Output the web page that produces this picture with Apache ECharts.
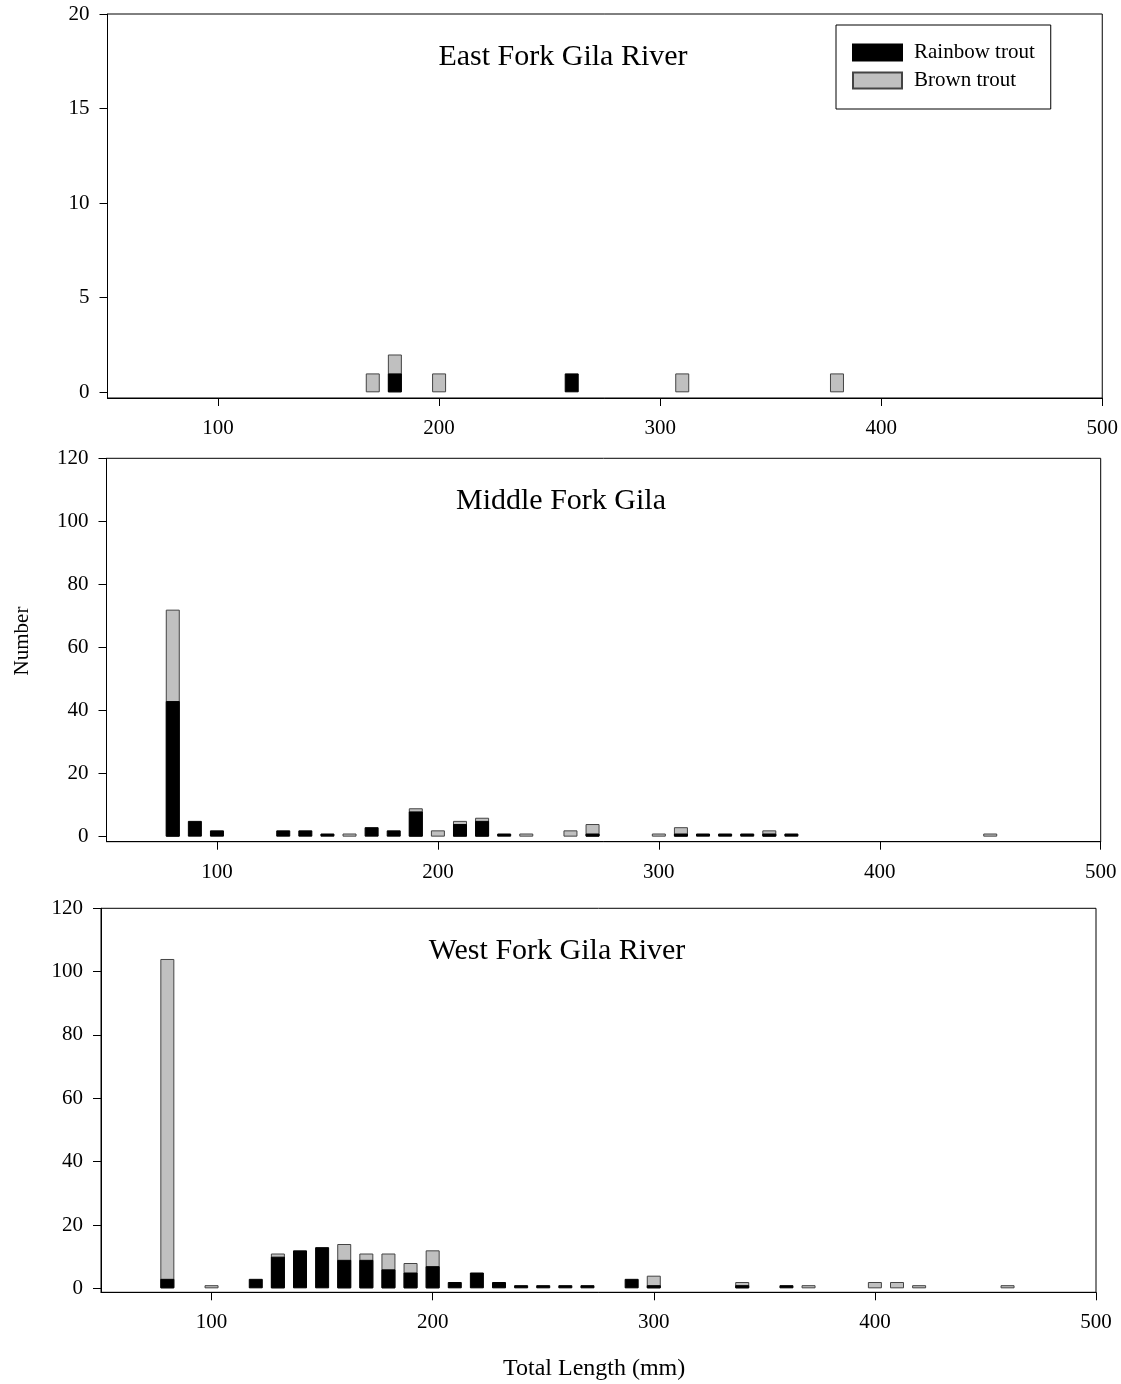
<!DOCTYPE html>
<html>
<head>
    <meta charset="utf-8">
    <script src="https://cdn.jsdelivr.net/npm/echarts@6/dist/echarts.min.js"></script>
    <style>
        html, body { margin: 0; padding: 0; background: #fff; }
    </style>
</head>
<body>
    <div id="main" style="width:1121px;height:1384px;"></div>
</body>
<script type="text/javascript">
    // total length bins (mm) and counts per river
    var eastLengths = [170, 180, 200, 260, 310, 380];
    var eastRainbow = [0, 1, 0, 1, 0, 0];
    var eastBrown   = [1, 1, 1, 0, 1, 1];

    var middleLengths = [80, 90, 100, 130, 140, 150, 160, 170, 180, 190, 200, 210, 220, 230, 240, 260, 270, 300, 310, 320, 330, 340, 350, 360, 450];
    var middleRainbow = [43, 5, 2, 2, 2, 1, 0, 3, 2, 8, 0, 4, 5, 1, 0, 0, 1, 0, 1, 1, 1, 1, 1, 1, 0];
    var middleBrown   = [29, 0, 0, 0, 0, 0, 1, 0, 0, 1, 2, 1, 1, 0, 1, 2, 3, 1, 2, 0, 0, 0, 1, 0, 1];

    var westLengths = [80, 100, 120, 130, 140, 150, 160, 170, 180, 190, 200, 210, 220, 230, 240, 250, 260, 270, 290, 300, 340, 360, 370, 400, 410, 420, 460];
    var westRainbow = [3, 0, 3, 10, 12, 13, 9, 9, 6, 5, 7, 2, 5, 2, 1, 1, 1, 1, 3, 1, 1, 1, 0, 0, 0, 0, 0];
    var westBrown   = [101, 1, 0, 1, 0, 0, 5, 2, 5, 3, 5, 0, 0, 0, 0, 0, 0, 0, 0, 3, 1, 0, 1, 2, 2, 1, 1];

    var panelTitles = ['East Fork Gila River', 'Middle Fork Gila', 'West Fork Gila River'];
    var xTicks = [100, 200, 300, 400, 500];
    var yTicksEast = [0, 5, 10, 15, 20];
    var yTicksOther = [0, 20, 40, 60, 80, 100, 120];

    var FONT = '"Liberation Serif", "Times New Roman", serif';

    var myChart = echarts.init(document.getElementById('main'));

    var panels = [
        { lengths: eastLengths, rainbow: eastRainbow, brown: eastBrown, ticks: yTicksEast, ymin: -0.3, ymax: 20,
          grid: { left: 107.5, right: 18.5, top: 14, height: 384 }, title: [563, 57] },
        { lengths: middleLengths, rainbow: middleRainbow, brown: middleBrown, ticks: yTicksOther, ymin: -1.6, ymax: 120,
          grid: { left: 106.5, right: 20.3, top: 458.3, height: 383.4 }, title: [561, 501] },
        { lengths: westLengths, rainbow: westRainbow, brown: westBrown, ticks: yTicksOther, ymin: -1.25, ymax: 120,
          grid: { left: 101, right: 25, top: 908.3, height: 384 }, title: [557, 951] }
    ];

    var grids = [], xAxes = [], yAxes = [], series = [], graphics = [];

    // brown sits on top of rainbow: draw the gray bar to the total, then black over its base
    panels.forEach(function (p, i) {
        var totalData = p.lengths.map(function (x, k) {
            var t = p.rainbow[k] + p.brown[k];
            return [x, p.brown[k] ? t : '-'];
        });
        var rainbowData = p.lengths.map(function (x, k) {
            return [x, p.rainbow[k] ? p.rainbow[k] : '-'];
        });

        grids.push({
            left: p.grid.left, right: p.grid.right, top: p.grid.top, height: p.grid.height,
            show: true, borderColor: '#000', borderWidth: 1
        });
        xAxes.push({
            gridIndex: i, type: 'value', min: 50, max: 500,
            axisLine: { show: true, onZero: false, lineStyle: { color: '#000', width: 1 } },
            axisTick: { show: true, length: 8, customValues: xTicks, lineStyle: { color: '#000' } },
            axisLabel: { customValues: xTicks, margin: 20, color: '#000', fontSize: 21, fontFamily: FONT },
            splitLine: { show: false }
        });
        yAxes.push({
            gridIndex: i, type: 'value', min: p.ymin, max: p.ymax,
            axisLine: { show: true, lineStyle: { color: '#000', width: 1 } },
            axisTick: { show: true, length: 8, customValues: p.ticks, lineStyle: { color: '#000' } },
            axisLabel: { customValues: p.ticks, margin: 18, color: '#000', fontSize: 21, fontFamily: FONT },
            splitLine: { show: false }
        });
        series.push({
            name: 'Brown trout', type: 'bar',
            xAxisIndex: i, yAxisIndex: i, barWidth: 14, barGap: '-100%',
            itemStyle: { color: '#c0c0c0', borderColor: '#444', borderWidth: 1 },
            data: totalData
        });
        series.push({
            name: 'Rainbow trout', type: 'bar',
            xAxisIndex: i, yAxisIndex: i, barWidth: 14, barGap: '-100%',
            itemStyle: { color: '#000', borderColor: '#000', borderWidth: 1 },
            data: rainbowData
        });
        graphics.push({
            type: 'text', x: p.title[0], y: p.title[1],
            style: { text: panelTitles[i], font: '30px ' + FONT, fill: '#000', textAlign: 'center', textVerticalAlign: 'middle' }
        });
    });

    graphics.push({
        type: 'text', x: 22, y: 641, rotation: Math.PI / 2,
        style: { text: 'Number', font: '21px ' + FONT, fill: '#000', textAlign: 'center', textVerticalAlign: 'middle' }
    });
    graphics.push({
        type: 'text', x: 503, y: 1369,
        style: { text: 'Total Length (mm)', font: '24px ' + FONT, fill: '#000', textAlign: 'left', textVerticalAlign: 'middle' }
    });

    myChart.setOption({
        animation: false,
        backgroundColor: '#fff',
        textStyle: { fontFamily: FONT },
        legend: {
            data: ['Rainbow trout', 'Brown trout'],
            orient: 'vertical', left: 836, top: 25,
            padding: [17, 16, 18, 16], itemGap: 7,
            itemWidth: 49, itemHeight: 16, icon: 'rect',
            borderColor: '#000', borderWidth: 1,
            textStyle: { fontSize: 21, fontFamily: FONT, color: '#000', padding: [0, 0, 0, 7] }
        },
        grid: grids,
        xAxis: xAxes,
        yAxis: yAxes,
        series: series,
        graphic: graphics
    });
</script>
</html>
